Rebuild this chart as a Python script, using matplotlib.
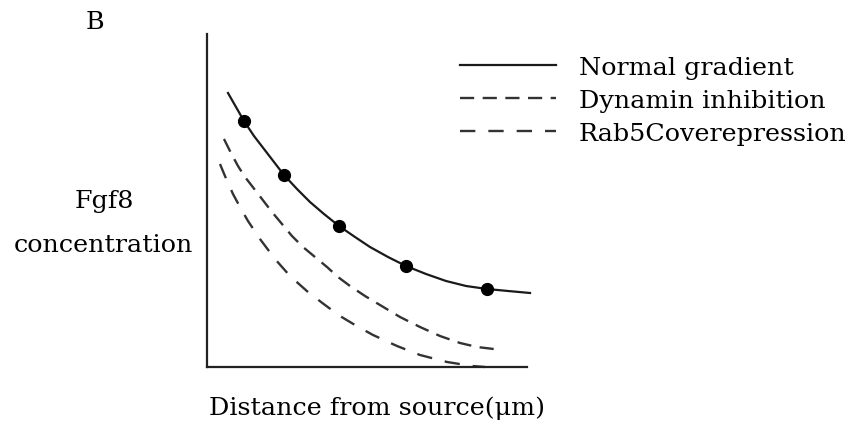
import numpy as np
import matplotlib
matplotlib.use("Agg")
import matplotlib.pyplot as plt

plt.rcParams['font.family'] = ['DejaVu Serif']

# curves (distance, concentration), arbitrary units
normal_x = [21, 29, 37, 47, 57, 67, 77, 90, 103, 117, 132, 148, 163, 181,
            199, 219, 239, 259, 280, 301, 323]
normal_y = [274, 260, 246, 231, 218, 205, 192, 178, 165, 153, 141, 130, 120,
            110, 101, 93, 86, 81, 78, 76, 74]

# measured points on the normal gradient
dots_x = [37, 77, 132, 199, 280]
dots_y = [246, 192, 141, 101, 78]

dynamin_x = [17, 24, 31, 38, 45, 55, 65, 75, 85, 96, 108, 120, 131, 143,
             158, 173, 193, 213, 233, 253, 270, 295]
dynamin_y = [228, 214, 201, 190, 181, 168, 155, 143, 131, 120, 110, 100, 90,
             81, 71, 62, 50, 40, 31, 24, 20, 17]

rab5_x = [13, 18, 26, 33, 41, 53, 68, 83, 101, 118, 133, 148, 166, 190,
          213, 240, 265, 278]
rab5_y = [203, 191, 173, 160, 146, 128, 108, 91, 75, 62, 51, 42, 32, 21,
          12, 5, 1, 0]

labels = ['Normal gradient', 'Dynamin inhibition', 'Rab5Coverepression']

fs = 18.3
fig = plt.figure(figsize=(8.5, 4.31), dpi=100)
ax = fig.add_axes([0.2435, 0.1462, 0.3765, 0.7726])

l1, = ax.plot(normal_x, normal_y, color='#1a1a1a', lw=1.6, clip_on=False)
ax.plot(dots_x, dots_y, 'o', color='black', ms=8.5, clip_on=False)
l2, = ax.plot(dynamin_x, dynamin_y, color='#333333', lw=1.7,
              dashes=(6.0, 3.6), clip_on=False)
l3, = ax.plot(rab5_x, rab5_y, color='#333333', lw=1.7,
              dashes=(6.5, 5.5), clip_on=False)

ax.set_xlim(0, 320)
ax.set_ylim(0, 333)
for s in ['top', 'right']:
    ax.spines[s].set_visible(False)
for s in ['left', 'bottom']:
    ax.spines[s].set_linewidth(1.6)
    ax.spines[s].set_color('#222222')
ax.set_xticks([])
ax.set_yticks([])

ax.set_xlabel('Distance from source(μm)', fontsize=fs, va='center')
ax.xaxis.set_label_coords(0.53, -0.12)
ax.set_ylabel('Fgf8\nconcentration', fontsize=fs, rotation=0,
              ha='center', va='center', linespacing=2.2)
ax.yaxis.set_label_coords(-0.322, 0.434)

fig.text(0.112, 0.947, 'B', fontsize=fs, ha='center', va='center')

fig.legend([l1, l2, l3], labels, loc='upper left',
           bbox_to_anchor=(0.541, 0.868), frameon=False, fontsize=fs,
           handlelength=3.8, handletextpad=0.87, labelspacing=0.4,
           borderpad=0, borderaxespad=0)

fig.savefig('out.png', dpi=100)
